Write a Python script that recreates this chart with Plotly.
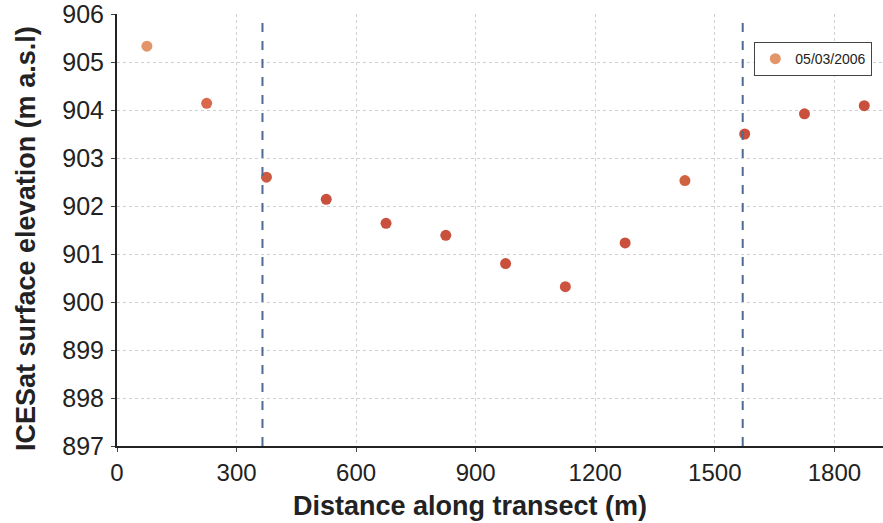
import plotly.graph_objects as go

distance_m = [75, 225, 375, 525, 675, 825, 975, 1125, 1275, 1425, 1575, 1725, 1875]
elevation_m = [905.33, 904.14, 902.6, 902.14, 901.64, 901.39, 900.8, 900.32, 901.23, 902.53, 903.5, 903.92, 904.09]
point_colors = ["#e3956a", "#d9694a", "#cc5a42", "#c9503d", "#c9503d", "#c9503d", "#c9503d",
                "#cc5440", "#c9503d", "#d0633f", "#c9503d", "#c9503d", "#c9503d"]
series_name = "05/03/2006"
boundary_lines_m = [365, 1570]
x_ticks = [0, 300, 600, 900, 1200, 1500, 1800]
y_ticks = [897, 898, 899, 900, 901, 902, 903, 904, 905, 906]

fig = go.Figure()
fig.add_trace(go.Scatter(
    x=distance_m, y=elevation_m, mode="markers", name=series_name,
    marker=dict(size=11, color=point_colors, line=dict(width=0)),
    showlegend=True,
))

for xv in boundary_lines_m:
    fig.add_shape(type="line", xref="x", yref="paper", x0=xv, x1=xv, y0=0, y1=1,
                  line=dict(color="#4f6a92", width=2, dash="dash"))

font_family = "Liberation Sans, Arial, sans-serif"
fig.update_layout(
    width=883, height=523,
    margin=dict(l=117, r=0, t=14, b=77, autoexpand=False),
    paper_bgcolor="white", plot_bgcolor="white",
    font=dict(family=font_family, color="#222222"),
    showlegend=True,
    legend=dict(x=0.832, y=0.935, xanchor="left", yanchor="top",
                bgcolor="white", bordercolor="#444444", borderwidth=1,
                font=dict(size=14, color="#222222"), itemwidth=30),
    xaxis=dict(range=[0, 1922], tickvals=x_ticks, ticktext=[str(v) for v in x_ticks],
               showgrid=True, gridcolor="#d0d0d0", griddash="dot", gridwidth=1,
               showline=True, linecolor="#222222", linewidth=2,
               ticks="outside", ticklen=4, tickcolor="#444444",
               tickfont=dict(size=24, color="#222222"), zeroline=False,
               ticklabelstandoff=0, ticklabeloverflow="allow", automargin=False),
    yaxis=dict(range=[897, 906], tickvals=y_ticks, ticktext=[str(v) for v in y_ticks],
               showgrid=True, gridcolor="#d0d0d0", griddash="dot", gridwidth=1,
               showline=True, linecolor="#222222", linewidth=2,
               ticks="outside", ticklen=4, tickcolor="#444444",
               tickfont=dict(size=25, color="#222222"), zeroline=False,
               ticklabelstandoff=2, ticklabeloverflow="allow", automargin=False),
    annotations=[
        dict(text="<b>Distance along transect (m)</b>", xref="paper", yref="paper",
             x=(470 - 117) / 766, y=-(506 - 446) / 432, xanchor="center", yanchor="middle",
             showarrow=False, font=dict(size=27, color="#222222")),
        dict(text="<b>ICESat surface elevation (m a.s.l)</b>", xref="paper", yref="paper",
             x=-(117 - 26) / 766, y=(446 - 239) / 432, xanchor="center", yanchor="middle",
             textangle=-90, showarrow=False, font=dict(size=27, color="#222222")),
    ],
)

fig.write_html("out.html")
